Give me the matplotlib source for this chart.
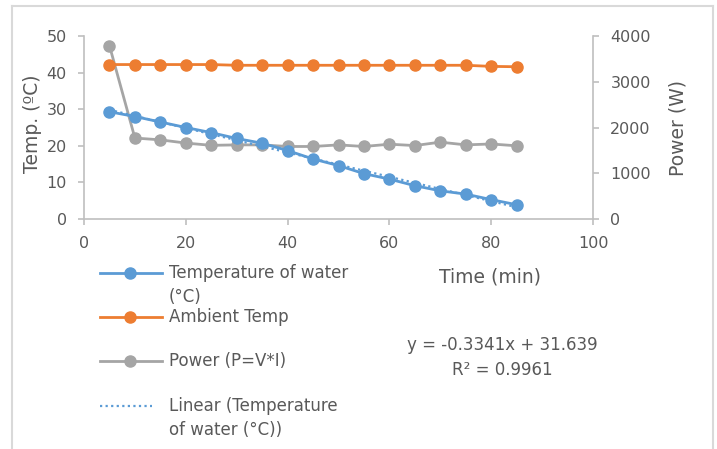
import numpy as np
import matplotlib.pyplot as plt
from matplotlib.lines import Line2D

plt.rcParams['font.family'] = ['DejaVu Sans']

# Time (min)
time = [5, 10, 15, 20, 25, 30, 35, 40, 45, 50, 55, 60, 65, 70, 75, 80, 85]
# Temperature of water (C)
water = [29.3, 28.0, 26.5, 25.0, 23.6, 22.0, 20.7, 18.7, 16.4, 14.6, 12.4,
         10.9, 9.1, 7.7, 6.8, 5.3, 3.9]
# Ambient temperature (C)
ambient = [42.2, 42.2, 42.2, 42.2, 42.2, 42.0, 42.0, 42.0, 42.0, 42.0, 42.0,
           42.0, 42.0, 42.0, 42.0, 41.7, 41.6]
# Power (W)
power = [3790, 1770, 1730, 1660, 1610, 1620, 1620, 1585, 1585, 1620, 1585,
         1635, 1605, 1680, 1620, 1640, 1600]

labels = ['Temperature of water\n(°C)', 'Ambient Temp', 'Power (P=V*I)',
          'Linear (Temperature\nof water (°C))']

blue = '#5B9BD5'
orange = '#ED7D31'
gray = '#A5A5A5'
txt = '#595959'
axcol = '#BFBFBF'

W, H = 717, 449
fig = plt.figure(figsize=(7.17, 4.49), dpi=100)
ax = fig.add_axes([84/W, 1-219/H, (593-84)/W, 183/H])
ax2 = ax.twinx()

ax.plot(time, water, color=blue, lw=2, marker='o', ms=8, zorder=4)
ax.plot(time, ambient, color=orange, lw=2, marker='o', ms=8, zorder=4)
ax2.plot(time, power, color=gray, lw=2, marker='o', ms=8)

# linear trendline of water temperature
k, b = np.polyfit(time, water, 1)
xs = np.array([time[0], time[-1]])
ax.plot(xs, k*xs + b, color=blue, lw=1.6, ls=(0, (1, 1.5)), zorder=5)

ax.set_zorder(ax2.get_zorder() + 1)
ax.patch.set_visible(False)

ax.set_xlim(0, 100)
ax.set_ylim(0, 50)
ax2.set_ylim(0, 4000)
ax.set_xticks([0, 20, 40, 60, 80, 100])
ax.set_yticks([0, 10, 20, 30, 40, 50])
ax2.set_yticks([0, 1000, 2000, 3000, 4000])

for a in (ax, ax2):
    for s in a.spines.values():
        s.set_color(axcol)
        s.set_linewidth(1.2)
    a.spines['top'].set_visible(False)
    a.tick_params(colors=axcol, labelcolor=txt, labelsize=11.5, length=4.5,
                  width=1.2, pad=8)
ax.spines['right'].set_visible(False)
ax2.spines['left'].set_visible(False)
ax2.spines['bottom'].set_visible(False)

fig.text(33/W, 1-124/H, 'Temp. (ºC)', rotation=90, ha='center', va='center',
         color=txt, fontsize=13.5)
fig.text(678/W, 1-128/H, 'Power (W)', rotation=90, ha='center', va='center',
         color=txt, fontsize=13.5)
fig.text(490/W, 1-277/H, 'Time (min)', ha='center', va='center',
         color=txt, fontsize=13.5)

fig.text(502/W, 1-345/H, 'y = -0.3341x + 31.639', ha='center', va='center',
         color=txt, fontsize=12)
fig.text(502/W, 1-370/H, 'R² = 0.9961', ha='center', va='center',
         color=txt, fontsize=12)

# legend drawn by hand (Excel places entries unevenly)
handle_y = [273, 317, 361, 406]
colors = [blue, orange, gray, blue]
for i, (y, c, lab) in enumerate(zip(handle_y, colors, labels)):
    yy = 1 - y/H
    if i < 3:
        fig.add_artist(Line2D([100/W, 162/W], [yy, yy], color=c, lw=2))
        fig.add_artist(Line2D([130/W], [yy], color=c, marker='o', ms=8))
    else:
        fig.add_artist(Line2D([100/W, 152/W], [yy, yy], color=c, lw=1.6,
                              ls=(0, (1, 1.5))))
    for j, line in enumerate(lab.split('\n')):
        fig.text(169/W, yy - j*24/H, line, ha='left', va='center',
                 color=txt, fontsize=12)

# outer chart border
for xs_, ys_ in [([12, 12], [449, 6]), ([12, 713], [6, 6]), ([713, 713], [6, 449])]:
    fig.add_artist(Line2D(np.array(xs_)/W, 1-np.array(ys_)/H,
                          color='#D9D9D9', lw=1.5))

fig.savefig('out.png', dpi=100)
